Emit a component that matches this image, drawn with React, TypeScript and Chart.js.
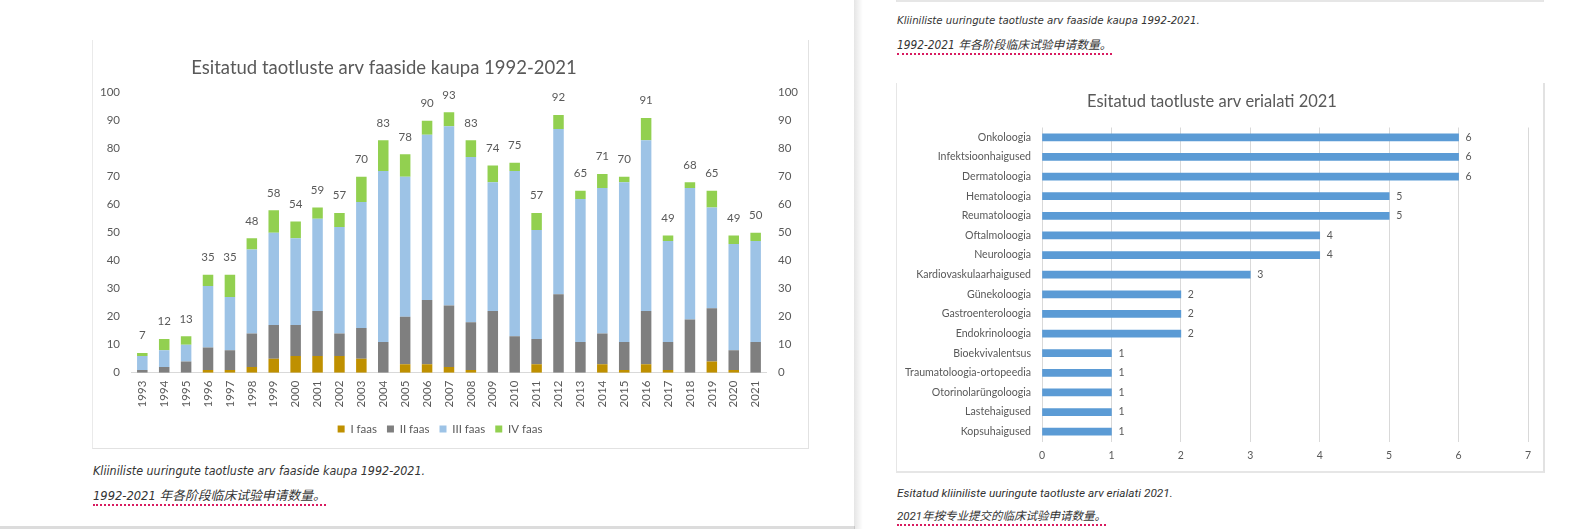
import React, { useEffect, useRef } from "react";
import { Chart, registerables } from "chart.js";

Chart.register(...registerables);

// ---- Applications per phase, 1993–2021 ----
const years = [
  "1993", "1994", "1995", "1996", "1997", "1998", "1999", "2000", "2001", "2002",
  "2003", "2004", "2005", "2006", "2007", "2008", "2009", "2010", "2011", "2012",
  "2013", "2014", "2015", "2016", "2017", "2018", "2019", "2020", "2021",
];
const phaseI = [0, 0, 0, 1, 1, 2, 5, 6, 6, 6, 5, 0, 3, 3, 2, 1, 0, 0, 3, 0, 0, 3, 1, 3, 1, 0, 4, 1, 0];
const phaseII = [1, 2, 4, 8, 7, 12, 12, 11, 16, 8, 11, 11, 17, 23, 22, 17, 22, 13, 9, 28, 11, 11, 10, 19, 10, 19, 19, 7, 11];
const phaseIII = [5, 6, 6, 22, 19, 30, 33, 31, 33, 38, 45, 61, 50, 59, 64, 59, 46, 59, 39, 59, 51, 52, 57, 61, 36, 47, 36, 38, 36];
const phaseIV = [1, 4, 3, 4, 8, 4, 8, 6, 4, 5, 9, 11, 8, 5, 5, 6, 6, 3, 6, 5, 3, 5, 2, 8, 2, 2, 6, 3, 3];
const phaseNames = ["I faas", "II faas", "III faas", "IV faas"];
const phaseColors = ["#BF9000", "#7F7F7F", "#9DC3E6", "#92D050"];

// ---- Applications per specialty, 2021 ----
const specialties = [
  "Onkoloogia", "Infektsioonhaigused", "Dermatoloogia", "Hematoloogia", "Reumatoloogia",
  "Oftalmoloogia", "Neuroloogia", "Kardiovaskulaarhaigused", "Günekoloogia",
  "Gastroenteroloogia", "Endokrinoloogia", "Bioekvivalentsus", "Traumatoloogia-ortopeedia",
  "Otorinolarüngoloogia", "Lastehaigused", "Kopsuhaigused",
];
const specialtyCounts = [6, 6, 6, 5, 5, 4, 4, 3, 2, 2, 2, 1, 1, 1, 1, 1];

const GREY_TEXT = "#595959";
const CHART_FONT = "Lato, 'Open Sans', sans-serif";

// Moves the title / legend blocks sideways after layout.
const shiftBlocks = {
  id: "shiftBlocks",
  afterLayout(chart: any, _args: any, opts: any) {
    const t = chart.titleBlock;
    if (t && opts && opts.title) {
      t.left += opts.title;
      t.right += opts.title;
    }
    const l = chart.legend;
    if (l && opts && opts.legend) {
      l.left += opts.legend;
      l.right += opts.legend;
    }
  },
};

// Writes the stack total above each column.
const stackTotals = {
  id: "stackTotals",
  afterDatasetsDraw(chart: any) {
    const { ctx, scales } = chart;
    const n = chart.data.labels.length;
    ctx.save();
    ctx.font = `11.5px ${CHART_FONT}`;
    ctx.fillStyle = GREY_TEXT;
    ctx.textAlign = "center";
    ctx.textBaseline = "middle";
    for (let i = 0; i < n; i++) {
      const total = chart.data.datasets.reduce((s: number, d: any) => s + (d.data[i] as number), 0);
      const x = scales.x.getPixelForValue(i);
      const y = scales.y.getPixelForValue(total);
      ctx.fillText(String(total), x, y - 17.5);
    }
    ctx.restore();
  },
};

// Writes each bar's value just past its end.
const barValues = {
  id: "barValues",
  afterDatasetsDraw(chart: any) {
    const { ctx } = chart;
    const meta = chart.getDatasetMeta(0);
    const data = chart.data.datasets[0].data;
    ctx.save();
    ctx.font = `10.5px ${CHART_FONT}`;
    ctx.fillStyle = GREY_TEXT;
    ctx.textAlign = "left";
    ctx.textBaseline = "middle";
    meta.data.forEach((bar: any, i: number) => {
      ctx.fillText(String(data[i]), bar.x + 7, bar.y);
    });
    ctx.restore();
  },
};

function PhaseChart() {
  const ref = useRef<HTMLCanvasElement | null>(null);
  useEffect(() => {
    if (!ref.current) return;
    const series = [phaseI, phaseII, phaseIII, phaseIV];
    const chart = new Chart(ref.current, {
      type: "bar",
      data: {
        labels: years,
        datasets: series.map((d, i) => ({
          label: phaseNames[i],
          data: d,
          backgroundColor: phaseColors[i],
          borderWidth: 0,
          barPercentage: 0.48,
          categoryPercentage: 1,
          yAxisID: "y",
        })),
      },
      options: {
        animation: false,
        responsive: false,
        devicePixelRatio: 1,
        layout: { padding: { left: 0, right: 0, top: 0, bottom: 2.25 } },
        plugins: {
          title: {
            display: true,
            text: "Esitatud taotluste arv faaside kaupa 1992-2021",
            color: GREY_TEXT,
            font: { family: CHART_FONT, size: 18.5, weight: "normal" },
            padding: { top: 17.4, bottom: 13.1 },
          },
          legend: {
            position: "bottom",
            labels: {
              boxWidth: 7,
              boxHeight: 7,
              padding: 10,
              color: GREY_TEXT,
              font: { family: CHART_FONT, size: 11.5 },
            },
          },
          tooltip: { enabled: false },
          shiftBlocks: { title: -66, legend: -10 },
        } as any,
        scales: {
          x: {
            stacked: true,
            grid: { display: false, drawTicks: false },
            border: { display: true, color: "#D9D9D9" },
            ticks: {
              color: GREY_TEXT,
              font: { family: CHART_FONT, size: 11.5 },
              minRotation: 90,
              maxRotation: 90,
              padding: 8,
              autoSkip: false,
            },
            afterFit: (s: any) => {
              s.height = 40.55;
            },
          },
          y: {
            stacked: true,
            min: 0,
            max: 100,
            ticks: { stepSize: 10, padding: 11.35, color: GREY_TEXT, font: { family: CHART_FONT, size: 11.5 } },
            grid: { display: false, drawTicks: false },
            border: { display: false },
            afterFit: (s: any) => {
              s.width = 39.35;
            },
          },
          y1: {
            position: "right",
            min: 0,
            max: 100,
            ticks: { stepSize: 10, padding: 11.4, color: GREY_TEXT, font: { family: CHART_FONT, size: 11.5 } },
            grid: { display: false, drawTicks: false },
            border: { display: false },
            afterFit: (s: any) => {
              s.width = 41.4;
            },
          },
        },
      },
      plugins: [shiftBlocks, stackTotals],
    });
    return () => chart.destroy();
  }, []);
  return <canvas ref={ref} width={716} height={407} style={{ display: "block" }} />;
}

function SpecialtyChart() {
  const ref = useRef<HTMLCanvasElement | null>(null);
  useEffect(() => {
    if (!ref.current) return;
    const chart = new Chart(ref.current, {
      type: "bar",
      data: {
        labels: specialties,
        datasets: [
          {
            label: "2021",
            data: specialtyCounts,
            backgroundColor: "#5B9BD5",
            borderWidth: 0,
            barThickness: 7,
          },
        ],
      },
      options: {
        indexAxis: "y",
        animation: false,
        responsive: false,
        devicePixelRatio: 1,
        layout: { padding: { left: 0, right: 16, top: 0, bottom: 0 } },
        plugins: {
          title: {
            display: true,
            text: "Esitatud taotluste arv erialati 2021",
            color: GREY_TEXT,
            font: { family: CHART_FONT, size: 16.5, weight: "normal" },
            padding: { top: 9.1, bottom: 15.6 },
          },
          legend: { display: false },
          tooltip: { enabled: false },
        },
        scales: {
          x: {
            min: 0,
            max: 7,
            ticks: { stepSize: 1, padding: 8.2, color: GREY_TEXT, font: { family: CHART_FONT, size: 10.5 } },
            grid: { color: "#D9D9D9", drawTicks: false },
            border: { display: false },
            afterFit: (s: any) => {
              s.height = 29.5;
            },
          },
          y: {
            grid: { display: false, drawTicks: false },
            border: { display: false },
            ticks: { padding: 11, color: GREY_TEXT, font: { family: CHART_FONT, size: 10.6 }, autoSkip: false },
            afterFit: (s: any) => {
              s.width = 146;
            },
          },
        },
      },
      plugins: [barValues],
    });
    return () => chart.destroy();
  }, []);
  return <canvas ref={ref} width={648} height={388} style={{ display: "block" }} />;
}

const captionFont = "'Liberation Sans Narrow', 'DejaVu Sans Condensed', Roboto, sans-serif";
const cjkFont = "'Liberation Sans Narrow', 'DejaVu Sans Condensed', 'Noto Sans CJK SC', sans-serif";

function Caption(props: { x: number; y: number; size: number; text: string; family?: string }) {
  return (
    <div
      style={{
        position: "absolute",
        left: props.x,
        top: props.y,
        fontSize: props.size,
        lineHeight: "16px",
        fontStyle: "italic",
        color: "#333",
        fontFamily: props.family || captionFont,
        whiteSpace: "nowrap",
      }}
    >
      {props.text}
    </div>
  );
}

function DottedCaption(props: { x: number; y: number; size: number; text: string; family?: string }) {
  return (
    <div
      style={{
        position: "absolute",
        left: props.x,
        top: props.y,
        fontSize: props.size,
        lineHeight: "16px",
        fontStyle: "italic",
        color: "#333",
        fontFamily: props.family || cjkFont,
        whiteSpace: "nowrap",
        borderBottom: "2px dotted #D81B60",
      }}
    >
      {props.text}
    </div>
  );
}

export default function App() {
  return (
    <div
      style={{
        position: "fixed",
        left: 0,
        top: 0,
        width: 1582,
        height: 529,
        background: "#fff",
        overflow: "hidden",
      }}
    >
      {/* left panel: phase chart frame */}
      <div
        style={{
          position: "absolute",
          left: 92,
          top: 40,
          width: 717,
          height: 409,
          boxSizing: "border-box",
          borderLeft: "1px solid #EAEAEA",
          borderRight: "1px solid #E2E2E2",
          borderBottom: "1px solid #E2E2E2",
        }}
      />
      <div style={{ position: "absolute", left: 92, top: 40, width: 716, height: 407 }}>
        <PhaseChart />
      </div>
      <Caption x={93} y={463} size={12.4} text="Kliiniliste uuringute taotluste arv faaside kaupa 1992-2021." />
      <DottedCaption x={93} y={488} size={12.8} text="1992-2021 年各阶段临床试验申请数量。" />
      <div style={{ position: "absolute", left: 0, top: 526, width: 855, height: 3, background: "#DCDCDC" }} />

      {/* panel divider shadow */}
      <div
        style={{
          position: "absolute",
          left: 854,
          top: 0,
          width: 9,
          height: 529,
          background: "linear-gradient(to right, rgba(0,0,0,0.10), rgba(0,0,0,0))",
        }}
      />

      {/* right panel */}
      <div
        style={{
          position: "absolute",
          left: 896,
          top: -10,
          width: 648,
          height: 12,
          boxSizing: "border-box",
          borderLeft: "1px solid #E2E2E2",
          borderRight: "1px solid #E2E2E2",
          borderBottom: "2px solid #E6E6E6",
        }}
      />
      <Caption x={897} y={13} size={11.3} text="Kliiniliste uuringute taotluste arv faaside kaupa 1992-2021." />
      <DottedCaption x={897} y={37} size={11.8} text="1992-2021 年各阶段临床试验申请数量。" />

      <div
        style={{
          position: "absolute",
          left: 896,
          top: 83,
          width: 649,
          height: 390,
          boxSizing: "border-box",
          borderLeft: "1px solid #E6E6E6",
          borderRight: "2px solid #E2E2E2",
          borderBottom: "2px solid #E6E6E6",
        }}
      />
      <div style={{ position: "absolute", left: 896, top: 83, width: 648, height: 388 }}>
        <SpecialtyChart />
      </div>
      <Caption
        x={897}
        y={485}
        size={11.8}
        family="Roboto, 'Liberation Sans', sans-serif"
        text="Esitatud kliiniliste uuringute taotluste arv erialati 2021."
      />
      <DottedCaption
        x={897}
        y={508}
        size={11.5}
        family="Roboto, 'Noto Sans CJK SC', sans-serif"
        text="2021年按专业提交的临床试验申请数量。"
      />
    </div>
  );
}
